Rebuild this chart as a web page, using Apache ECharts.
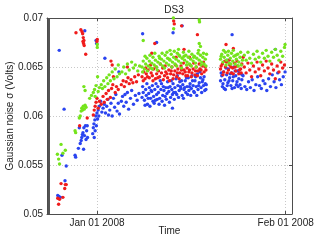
<!DOCTYPE html>
<html><head><meta charset="utf-8">
<script src="https://cdn.jsdelivr.net/npm/echarts@6/dist/echarts.min.js"></script>
<style>html,body{margin:0;padding:0;background:#fff}#c{width:322px;height:242px}</style>
</head><body><div id="c"></div>
<script>
// x values: days since Jan 01 2008; y values: Gaussian noise sigma (Volts)
const xTickDays = [0, 31];
const xTickLabels = ['Jan 01 2008', 'Feb 01 2008'];
const markerDay = -7.89;
const blueData = [
[-6.45,0.0519],[-6.25,0.0518],[-6.0,0.0517],[-6.2,0.0667],[-5.75,0.0560],[-5.4,0.0607],[-5.25,0.0534],[-5.05,0.0549],
[-3.6,0.0560],[-3.5,0.0558],[-3.05,0.0567],[-2.9,0.0588],[-2.75,0.0572],[-2.6,0.0575],[-2.5,0.0578],[-2.4,0.0581],[-2.3,0.0583],[-2.2,0.0566],[-2.15,0.0588],[-2.05,0.0580],[-2.0,0.0687],[-1.9,0.0590],[-1.8,0.0576],[-1.7,0.0585],[-1.6,0.0590],[-1.55,0.0578],
[-0.7,0.0582],[-0.6,0.0588],[-0.5,0.0592],[-0.45,0.0578],[-0.35,0.0596],[-0.3,0.0585],[-0.2,0.0600],[-0.15,0.0677],[-0.1,0.0590],[-0.05,0.0674],[0.0,0.0603],[0.1,0.0597],[0.2,0.0606],[0.3,0.0600],[0.4,0.0610],
[0.6,0.0615],[0.8,0.0604],[1.0,0.0608],[1.2,0.0612],[1.3,0.0659],[1.4,0.0603],[1.6,0.0610],[1.8,0.0617],[1.9,0.0601],[2.1,0.0606],[2.3,0.0613],[2.5,0.0600],[2.7,0.0618],[2.9,0.0609],[3.1,0.0622],[3.3,0.0605],[3.5,0.0613],[3.7,0.0602],[3.6,0.0645],
[4.0,0.0615],[4.2,0.0620],[4.4,0.0610],[4.6,0.0622],[4.8,0.0614],[5.0,0.0624],[5.2,0.0607],[5.5,0.0618],[5.7,0.0626],[6.0,0.0612],[6.3,0.0621],[6.6,0.0616],[6.9,0.0623],
[7.5,0.0684],[9.8,0.0675],[12.5,0.0685],[14.0,0.0692],
[7.4,0.0619],[7.6,0.0624],[7.8,0.0616],[8.0,0.0627],[8.1,0.0621],[8.3,0.0612],[8.5,0.0623],[8.6,0.0629],[8.8,0.0618],[9.0,0.0625],[9.1,0.0631],[9.3,0.0620],[9.5,0.0627],[9.6,0.0616],[9.8,0.0622],[10.0,0.0630],[10.1,0.0624],[10.3,0.0618],[10.5,0.0627],[10.6,0.0633],[10.8,0.0621],[11.0,0.0626],[11.1,0.0611],[11.3,0.0629],[11.5,0.0623],[11.6,0.0635],[11.8,0.0625],[12.0,0.0630],[12.1,0.0619],[12.3,0.0627],[12.5,0.0633],[12.6,0.0624],[12.8,0.0629],[13.0,0.0638],[13.1,0.0622],[13.3,0.0631],[13.5,0.0626],[13.6,0.0635],[13.8,0.0628],[14.0,0.0621],[14.1,0.0632],[14.3,0.0627],[14.5,0.0636],[14.6,0.0624],[14.8,0.0630],[15.0,0.0639],[15.1,0.0626],[15.3,0.0633],[15.5,0.0628],[15.6,0.0641],[15.8,0.0631],[16.0,0.0624],[16.1,0.0636],[16.3,0.0630],[16.5,0.0643],[16.6,0.0627],[16.8,0.0634],[17.0,0.0639],[17.1,0.0629],[17.3,0.0635],[17.5,0.0631],[17.6,0.0640],[17.8,0.0633],[17.9,0.0627],[8.7,0.0610],[9.4,0.0613],
[7.5,0.0630],[7.9,0.0611],[8.2,0.0633],[8.4,0.0618],[8.9,0.0626],[9.2,0.0615],[9.7,0.0633],[9.9,0.0617],[10.2,0.0612],[10.4,0.0636],[10.7,0.0615],[10.9,0.0630],[11.2,0.0620],[11.4,0.0617],[11.7,0.0629],[11.9,0.0614],[12.2,0.0636],[12.4,0.0622],[12.7,0.0617],[12.9,0.0624],[13.2,0.0641],[13.4,0.0619],[13.7,0.0630],[13.9,0.0636],[14.2,0.0618],[14.4,0.0629],[14.7,0.0639],[14.9,0.0622],[15.2,0.0630],[15.4,0.0621],[15.7,0.0636],[15.9,0.0625],[16.2,0.0640],[16.4,0.0621],[16.7,0.0631],[16.9,0.0645],[17.2,0.0624],[17.4,0.0637],[17.7,0.0626],[17.95,0.0632],[12.4,0.0608],
[20.3,0.0636],[20.5,0.0641],[20.6,0.0630],[20.8,0.0645],[21.0,0.0637],[21.1,0.0627],[21.3,0.0642],[21.5,0.0634],[21.6,0.0648],[21.8,0.0639],[22.0,0.0631],[22.1,0.0644],[22.3,0.0636],[22.5,0.0650],[22.6,0.0629],[22.8,0.0641],[23.0,0.0635],[23.1,0.0646],[23.3,0.0638],[23.5,0.0632],[23.6,0.0643],[23.8,0.0637],[22.2,0.0683],[21.4,0.0657],
[20.4,0.0644],[20.7,0.0633],[20.9,0.0628],[21.2,0.0649],[21.4,0.0631],[21.7,0.0636],[21.9,0.0643],[22.2,0.0628],[22.4,0.0640],[22.7,0.0646],[22.9,0.0632],[23.2,0.0630],[23.4,0.0644],[23.7,0.0628],[23.9,0.0642],
[24.3,0.0630],[24.6,0.0627],[24.9,0.0635],[25.2,0.0629],[25.5,0.0637],[25.8,0.0626],[26.1,0.0632],[26.4,0.0640],[26.7,0.0631],[27.0,0.0628],[27.3,0.0636],[27.6,0.0633],[27.9,0.0626],[28.2,0.0638],[28.5,0.0630],[28.8,0.0642],[29.1,0.0635],[29.4,0.0629],[29.7,0.0644],[30.0,0.0637],[30.3,0.0632],[30.6,0.0640],[30.9,0.0645],[29.3,0.0668],[24.0,0.0641]
];
const redData = [
[-6.45,0.0516],[-6.3,0.0510],[-6.15,0.0515],[-5.9,0.0531],[-5.6,0.0517],[-5.3,0.0526],[-5.2,0.0530],[-5.05,0.0530],
[-3.45,0.0685],[-2.65,0.0688],[-2.45,0.0686],[-2.35,0.0684],[-2.25,0.0680],[-2.3,0.0676],[-2.2,0.0674],[-2.1,0.0672],[-2.15,0.0677],[-1.85,0.0663],[-2.85,0.0590],[-1.6,0.0598],
[-0.6,0.0601],[-0.45,0.0606],[-0.3,0.0610],[-0.15,0.0614],[0.0,0.0618],[0.05,0.0678],[0.0,0.0676],[0.2,0.0608],[0.4,0.0615],
[0.7,0.0612],[1.0,0.0620],[1.2,0.0614],[1.5,0.0623],[1.7,0.0617],[1.9,0.0626],[2.2,0.0619],[2.4,0.0628],[2.6,0.0632],[2.7,0.0640],[2.3,0.0656],[2.5,0.0652],[3.0,0.0624],[3.2,0.0630],[3.5,0.0627],
[4.0,0.0632],[4.3,0.0636],[4.5,0.0630],[4.8,0.0635],[5.1,0.0639],[5.3,0.0633],[5.6,0.0637],[5.9,0.0634],[6.2,0.0640],[6.5,0.0635],[6.8,0.0642],[5.0,0.0650],
[7.4,0.0640],[7.7,0.0645],[7.9,0.0638],[8.1,0.0643],[8.4,0.0647],[8.6,0.0639],[8.9,0.0644],[9.1,0.0641],[9.3,0.0648],[9.6,0.0638],[9.8,0.0643],[10.1,0.0646],[10.3,0.0640],[10.6,0.0644],[10.8,0.0649],[11.1,0.0641],[11.3,0.0645],[11.6,0.0639],[11.8,0.0647],[12.1,0.0643],[12.3,0.0650],[12.6,0.0642],[12.8,0.0646],[13.1,0.0640],[13.3,0.0648],[13.6,0.0644],[13.8,0.0651],[14.1,0.0643],[14.3,0.0647],[14.6,0.0641],[14.8,0.0649],[15.1,0.0645],[15.3,0.0652],[15.6,0.0644],[15.8,0.0648],[16.1,0.0642],[16.3,0.0650],[16.6,0.0646],[16.8,0.0653],[17.1,0.0647],[17.3,0.0651],[17.6,0.0645],[17.8,0.0650],
[7.6,0.0636],[8.0,0.0649],[8.3,0.0640],[8.8,0.0652],[9.2,0.0636],[9.7,0.0650],[10.0,0.0639],[10.4,0.0653],[10.9,0.0637],[11.2,0.0651],[11.5,0.0643],[11.9,0.0636],[12.2,0.0646],[12.5,0.0638],[12.9,0.0652],[13.2,0.0644],[13.5,0.0638],[13.9,0.0647],[14.2,0.0654],[14.5,0.0645],[14.9,0.0641],[15.2,0.0647],[15.5,0.0640],[15.9,0.0654],[16.2,0.0646],[16.5,0.0641],[16.9,0.0648],[17.2,0.0643],[17.5,0.0655],[17.9,0.0647],
[9.0,0.0664],[9.5,0.0674],[12.6,0.0697],[12.7,0.0694],[13.9,0.0692],[14.3,0.0668],[16.5,0.0683],[13.0,0.0660],[15.2,0.0660],
[20.3,0.0648],[20.6,0.0653],[20.8,0.0645],[21.1,0.0650],[21.3,0.0655],[21.6,0.0647],[21.8,0.0652],[22.1,0.0644],[22.3,0.0649],[22.6,0.0654],[22.8,0.0646],[23.1,0.0651],[23.3,0.0643],[23.6,0.0648],[23.8,0.0653],[21.2,0.0673],[22.4,0.0669],
[20.4,0.0651],[20.7,0.0642],[21.0,0.0656],[21.4,0.0644],[21.7,0.0657],[22.0,0.0650],[22.4,0.0643],[22.7,0.0650],[23.0,0.0656],[23.4,0.0647],[23.7,0.0644],
[24.2,0.0650],[24.5,0.0644],[24.8,0.0654],[25.1,0.0647],[25.4,0.0640],[25.7,0.0651],[26.0,0.0645],[26.3,0.0655],[26.6,0.0648],[26.9,0.0641],[27.2,0.0652],[27.5,0.0646],[27.8,0.0656],[28.1,0.0649],[28.4,0.0643],[28.7,0.0653],[29.0,0.0647],[29.3,0.0638],[29.6,0.0651],[29.9,0.0645],[30.2,0.0655],[30.5,0.0649],[30.8,0.0652],[24.0,0.0660]
];
const greenData = [
[-6.5,0.0561],[-6.3,0.0556],[-6.15,0.0551],[-5.9,0.0571],[-5.6,0.0562],[-5.2,0.0565],
[-3.6,0.0585],[-3.5,0.0583],[-2.9,0.0598],[-2.75,0.0600],[-2.6,0.0605],[-2.5,0.0608],[-2.35,0.0606],[-2.25,0.0610],[-2.1,0.0607],[-1.95,0.0611],[-1.8,0.0609],[-2.15,0.0630],[-1.95,0.0626],
[-1.2,0.0618],[-0.9,0.0621],[-0.6,0.0624],[-0.4,0.0627],[-0.3,0.0620],[-0.15,0.0631],[0.05,0.0673],[0.05,0.0670],[0.1,0.0640],[0.2,0.0625],[0.4,0.0629],
[0.7,0.0632],[0.9,0.0628],[1.1,0.0636],[1.3,0.0630],[1.6,0.0639],[1.8,0.0633],[2.0,0.0642],[2.2,0.0636],[2.5,0.0645],[2.8,0.0638],[3.0,0.0648],[3.3,0.0640],[3.5,0.0652],[3.7,0.0643],
[4.1,0.0645],[4.4,0.0650],[4.7,0.0643],[5.0,0.0653],[5.3,0.0647],[5.7,0.0655],[6.0,0.0649],[6.3,0.0652],[6.7,0.0646],[7.0,0.0651],
[7.4,0.0650],[7.6,0.0656],[7.8,0.0648],[8.0,0.0653],[8.2,0.0659],[8.4,0.0651],[8.6,0.0656],[8.8,0.0649],[9.0,0.0654],[9.2,0.0660],[9.4,0.0652],[9.6,0.0657],[9.8,0.0650],[10.0,0.0655],[10.2,0.0661],[10.4,0.0653],[10.6,0.0658],[10.8,0.0651],[11.0,0.0656],[11.2,0.0662],[11.4,0.0654],[11.6,0.0659],[11.8,0.0652],[12.0,0.0657],[12.2,0.0663],[12.4,0.0655],[12.6,0.0660],[12.8,0.0653],[13.0,0.0658],[13.2,0.0664],[13.4,0.0656],[13.6,0.0661],[13.8,0.0654],[14.0,0.0659],[14.2,0.0665],[14.4,0.0657],[14.6,0.0662],[14.8,0.0655],[15.0,0.0660],[15.2,0.0653],[15.4,0.0658],[15.6,0.0663],[15.8,0.0656],[16.0,0.0661],[16.2,0.0654],[16.4,0.0659],[16.6,0.0664],[16.8,0.0657],[17.0,0.0662],[17.2,0.0655],[17.4,0.0660],[17.6,0.0653],[17.8,0.0658],[18.0,0.0663],
[7.5,0.0645],[7.9,0.0661],[8.3,0.0646],[8.7,0.0662],[9.1,0.0648],[9.5,0.0664],[9.9,0.0647],[10.3,0.0659],[10.7,0.0664],[11.1,0.0649],[11.5,0.0665],[11.9,0.0658],[12.3,0.0650],[12.7,0.0666],[13.1,0.0651],[13.5,0.0662],[13.9,0.0649],[14.3,0.0661],[14.7,0.0652],[15.1,0.0666],[15.5,0.0651],[15.9,0.0660],[16.3,0.0650],[16.7,0.0667],[17.1,0.0652],[17.5,0.0664],[17.9,0.0651],
[7.6,0.0677],[12.55,0.0700],[12.6,0.0689],[16.8,0.0698],[16.85,0.0696],[16.8,0.0674],[17.0,0.0671],[13.4,0.0668],[12.0,0.0667],
[20.3,0.0658],[20.5,0.0663],[20.7,0.0655],[20.9,0.0660],[21.1,0.0665],[21.3,0.0657],[21.5,0.0662],[21.7,0.0654],[21.9,0.0659],[22.1,0.0664],[22.3,0.0656],[22.5,0.0661],[22.7,0.0653],[22.9,0.0658],[23.1,0.0663],[23.3,0.0655],[23.5,0.0660],[23.7,0.0652],[23.9,0.0657],
[20.4,0.0661],[20.8,0.0667],[21.2,0.0652],[21.6,0.0666],[22.0,0.0653],[22.4,0.0667],[22.8,0.0662],[23.2,0.0651],[23.6,0.0665],
[24.2,0.0662],[24.5,0.0657],[24.8,0.0665],[25.1,0.0659],[25.4,0.0654],[25.7,0.0663],[26.0,0.0658],[26.3,0.0666],[26.6,0.0660],[26.9,0.0655],[27.2,0.0664],[27.5,0.0659],[27.8,0.0667],[28.1,0.0661],[28.4,0.0656],[28.7,0.0665],[29.0,0.0660],[29.3,0.0668],[29.6,0.0662],[29.9,0.0657],[30.2,0.0666],[30.5,0.0661],[30.8,0.0670],[30.9,0.0673]
];

const FONT = 'Liberation Sans';
const axisLineStyle = { color: '#4d4d4d', width: 1 };
const gridLine = { show: true, lineStyle: { color: '#c8c8c8', type: [1, 2], width: 1 } };
const chart = echarts.init(document.getElementById('c'), null, { renderer: 'canvas' });
function scatter(name, data, color, extra) {
  return Object.assign({
    name, type: 'scatter', data, symbol: 'circle', symbolSize: 3.4,
    itemStyle: { color, opacity: 1 }, silent: true, animation: false
  }, extra || {});
}
chart.setOption({
  animation: false,
  textStyle: { fontFamily: FONT },
  title: { text: 'DS3', left: 169, top: 0, textAlign: 'center',
    textStyle: { fontSize: 10, fontWeight: 'normal', color: '#222', fontFamily: FONT } },
  grid: { left: 47, right: 30, top: 18, bottom: 28, show: false, containLabel: false, outerBoundsMode: 'none' },
  xAxis: [{
    type: 'value', min: -8.21, max: 32.04, position: 'bottom',
    name: 'Time', nameLocation: 'middle', nameGap: 12, nameMoveOverlap: false,
    nameTextStyle: { fontSize: 10, color: '#222', fontFamily: FONT },
    axisLine: { show: true, onZero: false, lineStyle: axisLineStyle },
    axisTick: { show: true, inside: true, length: 3, customValues: xTickDays, lineStyle: axisLineStyle },
    axisLabel: { customValues: xTickDays, fontSize: 10, color: '#222', margin: 4, fontFamily: FONT,
      formatter: v => xTickLabels[xTickDays.indexOf(v)] },
    splitLine: gridLine
  }, {
    type: 'value', min: -8.21, max: 32.04, position: 'top',
    axisLine: { show: true, onZero: false, lineStyle: axisLineStyle },
    axisTick: { show: true, inside: true, length: 3, customValues: xTickDays, lineStyle: axisLineStyle },
    axisLabel: { show: false }, splitLine: { show: false }
  }],
  yAxis: [{
    type: 'value', min: 0.05, max: 0.07, interval: 0.005, position: 'left',
    name: 'Gaussian noise σ (Volts)', nameLocation: 'middle', nameGap: 32, nameMoveOverlap: false,
    nameTextStyle: { fontSize: 10, color: '#222', fontFamily: FONT },
    axisLine: { show: true, onZero: false, lineStyle: axisLineStyle },
    axisTick: { show: true, inside: true, length: 3, lineStyle: axisLineStyle },
    axisLabel: { fontSize: 10, color: '#222', margin: 4, fontFamily: FONT },
    splitLine: gridLine
  }, {
    type: 'value', min: 0.05, max: 0.07, interval: 0.005, position: 'right',
    axisLine: { show: true, onZero: false, lineStyle: axisLineStyle },
    axisTick: { show: true, inside: true, length: 3, lineStyle: axisLineStyle },
    axisLabel: { show: false }, splitLine: { show: false }
  }],
  series: [
    scatter('blue', blueData, '#2a44f0', {
      markLine: { silent: true, symbol: 'none', animation: false, label: { show: false },
        lineStyle: { color: '#555', width: 2, type: 'solid' },
        data: [{ xAxis: markerDay }] }
    }),
    scatter('red', redData, '#f01c1c'),
    scatter('green', greenData, '#74e41c')
  ]
});
</script></body></html>
